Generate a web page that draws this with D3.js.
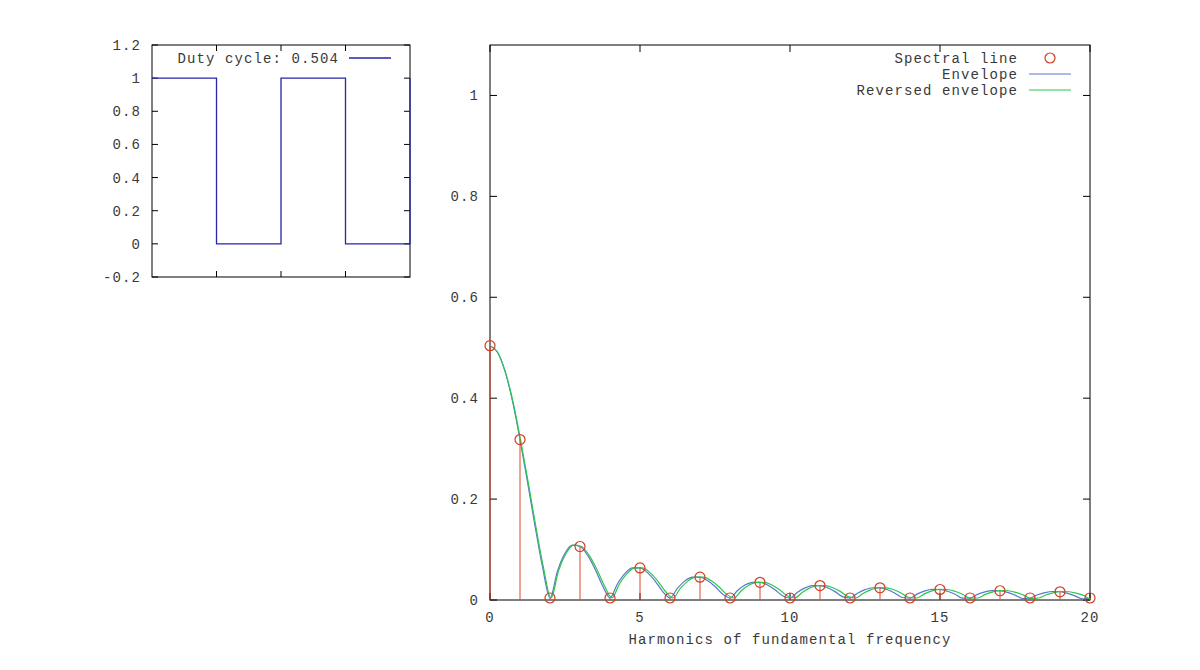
<!DOCTYPE html>
<html><head><meta charset="utf-8">
<script src="https://cdn.jsdelivr.net/npm/d3@7"></script>
<style>
body{margin:0;background:#fff}
text{font-family:"Liberation Mono","DejaVu Sans Mono",monospace;font-size:14px;letter-spacing:1.1px;fill:#3a3a3a}
.frame{fill:none;stroke:#000;stroke-width:1}
</style></head><body>
<svg width="1200" height="670"></svg>
<script>
// square wave (time, level) steps
var waveT = [0, 1, 1, 2, 2, 3, 3, 4, 4],
    waveV = [1, 1, 0, 0, 1, 1, 0, 0, 1];
var smallYTicks = [-0.2, 0, 0.2, 0.4, 0.6, 0.8, 1, 1.2],
    smallXTicks = [1, 2, 3];

// spectral lines at harmonics 0..20
var harmonics = d3.range(0, 21);
var lines = [0.504, 0.318, 0.004, 0.106, 0.004, 0.0635, 0.004, 0.0452, 0.004, 0.0351, 0.004,
             0.0286, 0.004, 0.0242, 0.004, 0.0208, 0.004, 0.0183, 0.004, 0.0163, 0.004];

// envelope sampled every 0.25
var envX = d3.range(0, 20.001, 0.25);
var envelope = [0.504, 0.491, 0.453, 0.394, 0.318, 0.234, 0.147, 0.0657,
  0.004, 0.0577, 0.0927, 0.1086, 0.106, 0.0888, 0.0614, 0.0286,
  0.004, 0.0322, 0.0528, 0.0636, 0.0635, 0.0542, 0.0379, 0.0173,
  0.004, 0.0234, 0.0379, 0.0452, 0.0452, 0.0385, 0.0268, 0.0119,
  0.004, 0.0189, 0.0298, 0.0351, 0.0351, 0.0297, 0.0204, 0.0085,
  0.004, 0.0154, 0.0241, 0.0286, 0.0286, 0.0244, 0.0166, 0.0066,
  0.004, 0.0135, 0.0206, 0.0243, 0.0242, 0.0204, 0.0135, 0.005,
  0.004, 0.0121, 0.0181, 0.0211, 0.0208, 0.0174, 0.0115, 0.0038,
  0.004, 0.0111, 0.0162, 0.0187, 0.0183, 0.0151, 0.0096, 0.003,
  0.004, 0.0103, 0.0146, 0.0168, 0.0163, 0.0132, 0.0083, 0.0023, 0.004];
var reversedStretch = 1.016;

var mainYTicks = [0, 0.2, 0.4, 0.6, 0.8, 1],
    mainXTicks = [0, 5, 10, 15, 20];

var svg = d3.select('svg');

function frame(x, y) {
  var g = svg.append('g');
  var r = x.range(), d = y.range();
  g.append('rect').attr('class', 'frame')
    .attr('x', r[0]).attr('y', d[1]).attr('width', r[1] - r[0]).attr('height', d[0] - d[1]);
  return g;
}

// ---- small plot
var sx = d3.scaleLinear().domain([0, 4]).range([152, 410]),
    sy = d3.scaleLinear().domain([-0.2, 1.2]).range([277, 45]);
var g1 = frame(sx, sy);
smallYTicks.forEach(function(t) {
  g1.append('line').attr('x1', 152).attr('x2', 158).attr('y1', sy(t)).attr('y2', sy(t)).attr('stroke', '#000');
  g1.append('line').attr('x1', 404).attr('x2', 410).attr('y1', sy(t)).attr('y2', sy(t)).attr('stroke', '#000');
  g1.append('text').attr('x', 141).attr('y', sy(t) + 5).attr('text-anchor', 'end').text(t);
});
smallXTicks.forEach(function(t) {
  g1.append('line').attr('x1', sx(t)).attr('x2', sx(t)).attr('y1', 277).attr('y2', 271).attr('stroke', '#000');
  g1.append('line').attr('x1', sx(t)).attr('x2', sx(t)).attr('y1', 45).attr('y2', 51).attr('stroke', '#000');
});
g1.append('path')
  .datum(d3.zip(waveT, waveV))
  .attr('fill', 'none').attr('stroke', '#2626a6').attr('stroke-width', 1.3)
  .attr('d', d3.line().x(function(d) { return sx(d[0]); }).y(function(d) { return sy(d[1]); }));
g1.append('text').attr('x', 339).attr('y', 63).attr('text-anchor', 'end').text('Duty cycle: 0.504');
g1.append('line').attr('x1', 349).attr('x2', 391).attr('y1', 58).attr('y2', 58).attr('stroke', '#2626a6').attr('stroke-width', 1.3);

// ---- main plot
var x = d3.scaleLinear().domain([0, 20]).range([490, 1090]),
    y = d3.scaleLinear().domain([0, 1.1]).range([600, 45]);
var g2 = frame(x, y);
mainYTicks.forEach(function(t) {
  g2.append('line').attr('x1', 490).attr('x2', 497).attr('y1', y(t)).attr('y2', y(t)).attr('stroke', '#000');
  g2.append('line').attr('x1', 1083).attr('x2', 1090).attr('y1', y(t)).attr('y2', y(t)).attr('stroke', '#000');
  g2.append('text').attr('x', 479).attr('y', y(t) + 5).attr('text-anchor', 'end').text(t);
});
mainXTicks.forEach(function(t) {
  g2.append('line').attr('x1', x(t)).attr('x2', x(t)).attr('y1', 600).attr('y2', 593).attr('stroke', '#000');
  g2.append('line').attr('x1', x(t)).attr('x2', x(t)).attr('y1', 45).attr('y2', 52).attr('stroke', '#000');
  g2.append('text').attr('x', x(t)).attr('y', 622).attr('text-anchor', 'middle').text(t);
});
g2.append('text').attr('x', 790).attr('y', 644).attr('text-anchor', 'middle').text('Harmonics of fundamental frequency');

var envPts = d3.zip(envX, envelope);
g2.append('path').datum(envPts)
  .attr('fill', 'none').attr('stroke', '#5a78c8').attr('stroke-width', 1.2)
  .attr('d', d3.line().curve(d3.curveMonotoneX).x(function(d) { return x(d[0]); }).y(function(d) { return y(d[1]); }));
g2.append('path').datum(envPts)
  .attr('fill', 'none').attr('stroke', '#28c850').attr('stroke-width', 1.2)
  .attr('d', d3.line().curve(d3.curveMonotoneX).x(function(d) { return x(Math.min(20, d[0] * reversedStretch)); }).y(function(d) { return y(d[1]); }));

var pts = d3.zip(harmonics, lines);
g2.selectAll('line.stem').data(pts).enter().append('line')
  .attr('class', 'stem')
  .attr('x1', function(d) { return x(d[0]); }).attr('x2', function(d) { return x(d[0]); })
  .attr('y1', y(0)).attr('y2', function(d) { return y(d[1]); })
  .attr('stroke', '#e0452a').attr('stroke-width', 1);
g2.selectAll('circle').data(pts).enter().append('circle')
  .attr('cx', function(d) { return x(d[0]); }).attr('cy', function(d) { return y(d[1]); })
  .attr('r', 5).attr('fill', 'none').attr('stroke', '#d23c1e').attr('stroke-width', 1.2);

// legend
var legend = [['Spectral line', 'circle', '#d23c1e'], ['Envelope', 'line', '#5a78c8'], ['Reversed envelope', 'line', '#28c850']];
legend.forEach(function(l, i) {
  var ly = 58 + i * 16;
  g2.append('text').attr('x', 1018).attr('y', ly + 5).attr('text-anchor', 'end').text(l[0]);
  if (l[1] === 'circle')
    g2.append('circle').attr('cx', 1050).attr('cy', ly).attr('r', 5).attr('fill', 'none').attr('stroke', l[2]).attr('stroke-width', 1.2);
  else
    g2.append('line').attr('x1', 1029).attr('x2', 1071).attr('y1', ly).attr('y2', ly).attr('stroke', l[2]).attr('stroke-width', 1.2);
});
</script></body></html>
